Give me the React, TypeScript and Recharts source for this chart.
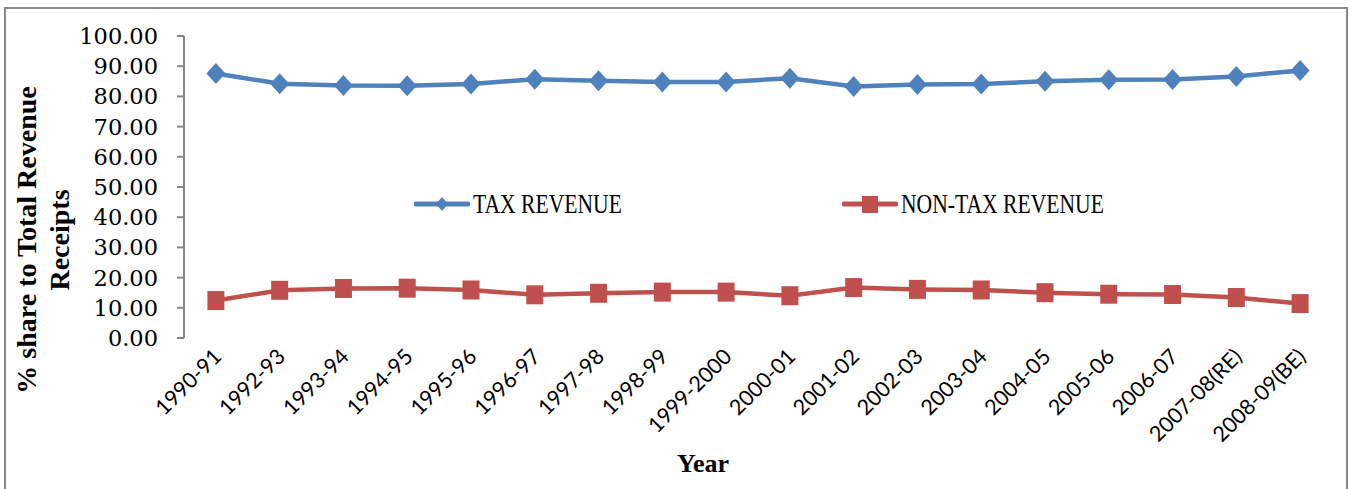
import { Label, Legend, Line, LineChart, XAxis, YAxis } from "recharts";

const years = [
  "1990-91",
  "1992-93",
  "1993-94",
  "1994-95",
  "1995-96",
  "1996-97",
  "1997-98",
  "1998-99",
  "1999-2000",
  "2000-01",
  "2001-02",
  "2002-03",
  "2003-04",
  "2004-05",
  "2005-06",
  "2006-07",
  "2007-08(RE)",
  "2008-09(BE)",
];

const taxRevenue = [
  87.6, 84.2, 83.6, 83.5, 84.1, 85.7, 85.2, 84.8, 84.8, 86.0, 83.3, 83.9, 84.1,
  85.0, 85.5, 85.6, 86.6, 88.6,
];

const nonTaxRevenue = [
  12.4, 15.8, 16.4, 16.5, 15.9, 14.3, 14.8, 15.2, 15.2, 14.0, 16.7, 16.1, 15.9,
  15.0, 14.5, 14.4, 13.4, 11.4,
];

const yTicks = [0, 10, 20, 30, 40, 50, 60, 70, 80, 90, 100];

const BLUE = "#4F81BD";
const RED = "#C0504D";
const AXIS = "#868686";

const data = years.map((year, i) => ({
  pos: i + 0.5,
  year,
  tax: taxRevenue[i],
  nonTax: nonTaxRevenue[i],
}));

const boundaryTicks = years.map((_, i) => i).concat(years.length);
const centerTicks = years.map((_, i) => i + 0.5);

function Diamond({ cx, cy }: any) {
  if (cx == null || cy == null) return null;
  return (
    <polygon
      points={`${cx},${cy - 10.5} ${cx + 9.5},${cy} ${cx},${cy + 10.5} ${cx - 9.5},${cy}`}
      fill={BLUE}
    />
  );
}

function Square({ cx, cy }: any) {
  if (cx == null || cy == null) return null;
  return <rect x={cx - 8.5} y={cy - 9.5} width={17} height={19} fill={RED} />;
}

function NoTick() {
  return <g />;
}

function YearTick({ x, y, payload }: any) {
  const label = years[Math.round(payload.value - 0.5)];
  const ax = x + 7;
  const ay = y + 20;
  return (
    <text
      x={ax}
      y={ay}
      transform={`rotate(-45 ${ax} ${ay})`}
      textAnchor="end"
      fontFamily="Lato, sans-serif"
      fontSize={21.5}
      fill="#000"
    >
      {label}
    </text>
  );
}

function YTitle({ viewBox }: any) {
  const cy = viewBox.y + viewBox.height / 2 + 53;
  const common = {
    fontFamily: "'Liberation Serif', serif",
    fontSize: 28,
    fontWeight: 700,
    fill: "#000",
    textAnchor: "middle" as const,
  };
  return (
    <g>
      <text x={27} y={cy} transform={`rotate(-90 27 ${cy})`} dy={9} {...common}>
        % share to Total Revenue
      </text>
      <text x={60} y={cy} transform={`rotate(-90 60 ${cy})`} dy={9} {...common}>
        Receipts
      </text>
    </g>
  );
}

function XTitle({ viewBox }: any) {
  const cx = viewBox.x + viewBox.width / 2 - 55;
  return (
    <text
      x={cx}
      y={472}
      textAnchor="middle"
      fontFamily="'Liberation Serif', serif"
      fontSize={26}
      fontWeight={700}
      fill="#000"
    >
      Year
    </text>
  );
}

function LegendIcon({ color, shape }: { color: string; shape: string }) {
  return (
    <svg width={56} height={24} style={{ display: "block" }}>
      <line x1={2} y1={12} x2={54} y2={12} stroke={color} strokeWidth={5} strokeLinecap="round" />
      {shape === "diamond" ? (
        <polygon points="28,5 34,12 28,19 22,12" fill={color} />
      ) : (
        <rect x={20} y={4} width={16} height={17} fill={color} />
      )}
    </svg>
  );
}

function ChartLegend() {
  const items = [
    { label: "TAX REVENUE", color: BLUE, shape: "diamond", left: 414 },
    { label: "NON-TAX REVENUE", color: RED, shape: "square", left: 842 },
  ];
  return (
    <div style={{ position: "relative", height: 28 }}>
      {items.map((it) => (
        <div
          key={it.label}
          style={{
            position: "absolute",
            left: it.left,
            top: 0,
            display: "flex",
            alignItems: "center",
          }}
        >
          <LegendIcon color={it.color} shape={it.shape} />
          <span
            style={{
              fontFamily: "'Liberation Serif', serif",
              fontSize: 27,
              lineHeight: "24px",
              color: "#000",
              display: "inline-block",
              transform: "scaleX(0.8)",
              transformOrigin: "left center",
              whiteSpace: "nowrap",
              marginLeft: 3,
            }}
          >
            {it.label}
          </span>
        </div>
      ))}
    </div>
  );
}

export default function App() {
  return (
    <div
      style={{
        position: "absolute",
        left: 0,
        top: 0,
        width: 1351,
        height: 489,
        background: "#fff",
        overflow: "hidden",
      }}
    >
      <div
        style={{
          position: "absolute",
          left: 4,
          top: 7,
          width: 1340,
          height: 500,
          border: "2px solid #8a8a8a",
        }}
      />
      <LineChart
        width={1351}
        height={489}
        data={data}
        margin={{ top: 36, right: 19, left: 0, bottom: 51 }}
        style={{ position: "absolute", left: 0, top: 0 }}
      >
        <XAxis
          xAxisId="grid"
          dataKey="pos"
          type="number"
          domain={[0, years.length]}
          ticks={boundaryTicks}
          tick={<NoTick />}
          height={0}
          axisLine={{ stroke: AXIS, strokeWidth: 2 }}
          tickLine={{ stroke: AXIS, strokeWidth: 2 }}
          tickSize={7}
          interval={0}
        />
        <XAxis
          xAxisId="labels"
          dataKey="pos"
          type="number"
          domain={[0, years.length]}
          ticks={centerTicks}
          tick={<YearTick />}
          height={100}
          axisLine={false}
          tickLine={false}
          tickSize={0}
          tickMargin={0}
          interval={0}
        >
          <Label content={<XTitle />} />
        </XAxis>
        <YAxis
          domain={[0, 100]}
          ticks={yTicks}
          width={184}
          interval={0}
          tickFormatter={(v) => v.toFixed(2)}
          tick={{ fill: "#000", fontSize: 22.5, fontFamily: "'DejaVu Serif', serif" }}
          axisLine={{ stroke: AXIS, strokeWidth: 2 }}
          tickLine={{ stroke: AXIS, strokeWidth: 2 }}
          tickSize={7}
          tickMargin={19}
        >
          <Label content={<YTitle />} />
        </YAxis>
        <Legend
          verticalAlign="middle"
          align="center"
          content={<ChartLegend />}
          wrapperStyle={{ top: 192, left: 0, width: 1351 }}
        />
        <Line
          xAxisId="grid"
          dataKey="tax"
          name="TAX REVENUE"
          stroke={BLUE}
          strokeWidth={4.5}
          dot={<Diamond />}
          activeDot={false}
          isAnimationActive={false}
        />
        <Line
          xAxisId="grid"
          dataKey="nonTax"
          name="NON-TAX REVENUE"
          stroke={RED}
          strokeWidth={4.5}
          dot={<Square />}
          activeDot={false}
          isAnimationActive={false}
        />
      </LineChart>
    </div>
  );
}
